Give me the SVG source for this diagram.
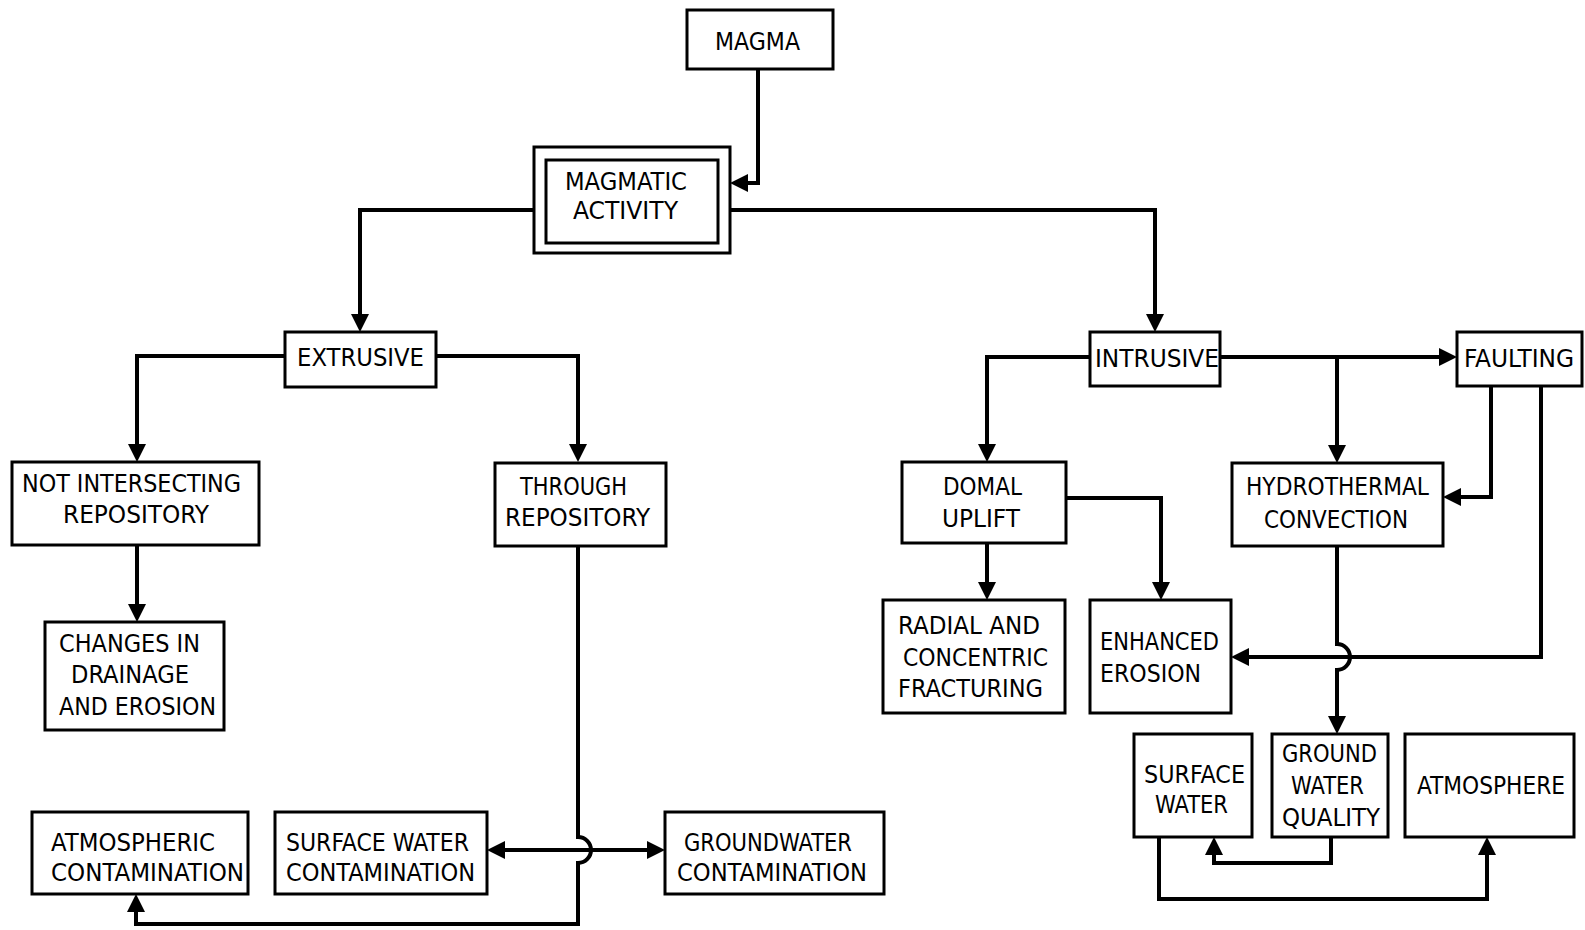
<svg xmlns="http://www.w3.org/2000/svg" width="1585" height="930" viewBox="0 0 1585 930">
<style>
.box{fill:#fff;stroke:#000;stroke-width:3}
.t{font-family:"DejaVu Sans Condensed","Liberation Sans",sans-serif;font-size:25px;fill:#000}
.c{fill:none;stroke:#000;stroke-width:4;stroke-linejoin:miter}
</style>
<defs>
<marker id="ah" markerUnits="userSpaceOnUse" viewBox="0 0 18 18" markerWidth="18" markerHeight="18" refX="14" refY="9" orient="auto-start-reverse">
<path d="M0,0 L18,9 L0,18 z" fill="#000"/>
</marker>
</defs>
<rect width="1585" height="930" fill="#fff"/>
<g id="connectors">
<path class="c" d="M758,69 V183 H734" marker-end="url(#ah)"/>
<path class="c" d="M534,210 H360 V328" marker-end="url(#ah)"/>
<path class="c" d="M730,210 H1155 V328" marker-end="url(#ah)"/>
<path class="c" d="M285,356 H137 V458" marker-end="url(#ah)"/>
<path class="c" d="M436,356 H578 V458" marker-end="url(#ah)"/>
<path class="c" d="M137,545 V618" marker-end="url(#ah)"/>
<path class="c" d="M578,546 V837 A13,13 0 0 1 578,863 V924 H136 V898" marker-end="url(#ah)"/>
<path class="c" d="M491,850 H661" marker-start="url(#ah)" marker-end="url(#ah)"/>
<path class="c" d="M1090,357 H987 V458" marker-end="url(#ah)"/>
<path class="c" d="M1220,357 H1453" marker-end="url(#ah)"/>
<path class="c" d="M1337,357 V459" marker-end="url(#ah)"/>
<path class="c" d="M1491,386 V497 H1447" marker-end="url(#ah)"/>
<path class="c" d="M1541,386 V657 H1235" marker-end="url(#ah)"/>
<path class="c" d="M1066,498 H1161 V596" marker-end="url(#ah)"/>
<path class="c" d="M987,543 V596" marker-end="url(#ah)"/>
<path class="c" d="M1337,546 V644 A13,13 0 0 1 1337,670 V730" marker-end="url(#ah)"/>
<path class="c" d="M1331,837 V863 H1214 V841" marker-end="url(#ah)"/>
<path class="c" d="M1159,837 V899 H1487 V841" marker-end="url(#ah)"/>
</g>
<g id="magma">
<rect class="box" x="687" y="10" width="146" height="59"/>
<text class="t" x="715" y="50" textLength="85" lengthAdjust="spacingAndGlyphs">MAGMA</text>
</g>
<g id="magmatic-activity">
<rect class="box" x="534" y="147" width="196" height="106"/>
<rect class="box" x="546" y="160" width="172" height="83"/>
<text class="t" x="565" y="190" textLength="122" lengthAdjust="spacingAndGlyphs">MAGMATIC</text>
<text class="t" x="573" y="219" textLength="105" lengthAdjust="spacingAndGlyphs">ACTIVITY</text>
</g>
<g id="extrusive">
<rect class="box" x="285" y="332" width="151" height="55"/>
<text class="t" x="297" y="366" textLength="127" lengthAdjust="spacingAndGlyphs">EXTRUSIVE</text>
</g>
<g id="not-intersecting">
<rect class="box" x="12" y="462" width="247" height="83"/>
<text class="t" x="22" y="492" textLength="219" lengthAdjust="spacingAndGlyphs">NOT INTERSECTING</text>
<text class="t" x="63" y="523" textLength="146" lengthAdjust="spacingAndGlyphs">REPOSITORY</text>
</g>
<g id="through-repository">
<rect class="box" x="495" y="463" width="171" height="83"/>
<text class="t" x="520" y="495" textLength="107" lengthAdjust="spacingAndGlyphs">THROUGH</text>
<text class="t" x="505" y="526" textLength="145" lengthAdjust="spacingAndGlyphs">REPOSITORY</text>
</g>
<g id="changes-drainage">
<rect class="box" x="45" y="622" width="179" height="108"/>
<text class="t" x="59" y="652" textLength="141" lengthAdjust="spacingAndGlyphs">CHANGES IN</text>
<text class="t" x="71" y="683" textLength="118" lengthAdjust="spacingAndGlyphs">DRAINAGE</text>
<text class="t" x="59" y="715" textLength="157" lengthAdjust="spacingAndGlyphs">AND EROSION</text>
</g>
<g id="atmospheric-contamination">
<rect class="box" x="32" y="812" width="216" height="82"/>
<text class="t" x="51" y="851" textLength="164" lengthAdjust="spacingAndGlyphs">ATMOSPHERIC</text>
<text class="t" x="51" y="881" textLength="193" lengthAdjust="spacingAndGlyphs">CONTAMINATION</text>
</g>
<g id="surface-water-contamination">
<rect class="box" x="275" y="812" width="212" height="82"/>
<text class="t" x="286" y="851" textLength="183" lengthAdjust="spacingAndGlyphs">SURFACE WATER</text>
<text class="t" x="286" y="881" textLength="189" lengthAdjust="spacingAndGlyphs">CONTAMINATION</text>
</g>
<g id="groundwater-contamination">
<rect class="box" x="665" y="812" width="219" height="82"/>
<text class="t" x="684" y="851" textLength="168" lengthAdjust="spacingAndGlyphs">GROUNDWATER</text>
<text class="t" x="677" y="881" textLength="190" lengthAdjust="spacingAndGlyphs">CONTAMINATION</text>
</g>
<g id="intrusive">
<rect class="box" x="1090" y="332" width="130" height="54"/>
<text class="t" x="1095" y="367" textLength="124" lengthAdjust="spacingAndGlyphs">INTRUSIVE</text>
</g>
<g id="faulting">
<rect class="box" x="1457" y="332" width="125" height="54"/>
<text class="t" x="1464" y="367" textLength="110" lengthAdjust="spacingAndGlyphs">FAULTING</text>
</g>
<g id="domal-uplift">
<rect class="box" x="902" y="462" width="164" height="81"/>
<text class="t" x="943" y="495" textLength="79" lengthAdjust="spacingAndGlyphs">DOMAL</text>
<text class="t" x="942" y="527" textLength="78" lengthAdjust="spacingAndGlyphs">UPLIFT</text>
</g>
<g id="hydrothermal-convection">
<rect class="box" x="1232" y="463" width="211" height="83"/>
<text class="t" x="1246" y="495" textLength="183" lengthAdjust="spacingAndGlyphs">HYDROTHERMAL</text>
<text class="t" x="1264" y="528" textLength="144" lengthAdjust="spacingAndGlyphs">CONVECTION</text>
</g>
<g id="radial-fracturing">
<rect class="box" x="883" y="600" width="182" height="113"/>
<text class="t" x="898" y="634" textLength="142" lengthAdjust="spacingAndGlyphs">RADIAL AND</text>
<text class="t" x="903" y="666" textLength="145" lengthAdjust="spacingAndGlyphs">CONCENTRIC</text>
<text class="t" x="898" y="697" textLength="145" lengthAdjust="spacingAndGlyphs">FRACTURING</text>
</g>
<g id="enhanced-erosion">
<rect class="box" x="1090" y="600" width="141" height="113"/>
<text class="t" x="1100" y="650" textLength="119" lengthAdjust="spacingAndGlyphs">ENHANCED</text>
<text class="t" x="1100" y="682" textLength="101" lengthAdjust="spacingAndGlyphs">EROSION</text>
</g>
<g id="surface-water">
<rect class="box" x="1134" y="734" width="118" height="103"/>
<text class="t" x="1144" y="783" textLength="101" lengthAdjust="spacingAndGlyphs">SURFACE</text>
<text class="t" x="1155" y="813" textLength="73" lengthAdjust="spacingAndGlyphs">WATER</text>
</g>
<g id="ground-water-quality">
<rect class="box" x="1272" y="734" width="116" height="103"/>
<text class="t" x="1282" y="762" textLength="95" lengthAdjust="spacingAndGlyphs">GROUND</text>
<text class="t" x="1291" y="794" textLength="73" lengthAdjust="spacingAndGlyphs">WATER</text>
<text class="t" x="1282" y="826" textLength="98" lengthAdjust="spacingAndGlyphs">QUALITY</text>
</g>
<g id="atmosphere">
<rect class="box" x="1405" y="734" width="169" height="103"/>
<text class="t" x="1417" y="794" textLength="148" lengthAdjust="spacingAndGlyphs">ATMOSPHERE</text>
</g>
</svg>
